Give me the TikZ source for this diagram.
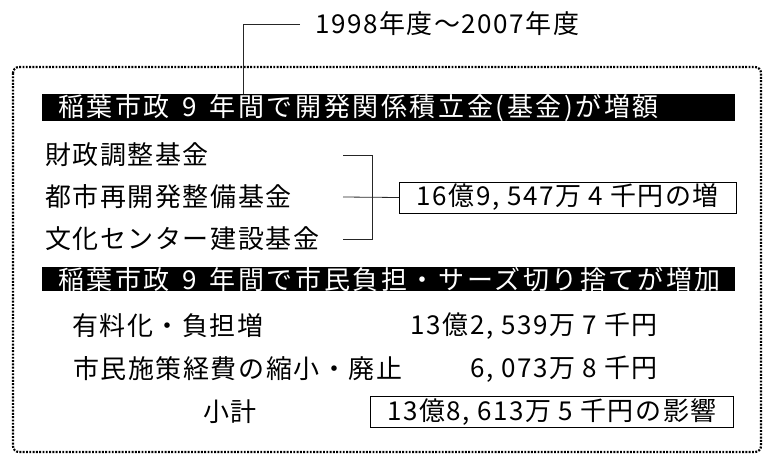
\documentclass[tikz,border=0pt]{standalone}
\usepackage{fontspec}
\newfontfamily\jp[LetterSpace=6]{Noto Sans CJK JP}
\newfontfamily\jpb[LetterSpace=10]{Noto Sans CJK JP}
\begin{document}
\begin{tikzpicture}[x=1pt,y=-1pt,
  txt/.style={font=\jp\fontsize{26}{26}\selectfont, inner sep=0pt, anchor=west},
  bartxt/.style={font=\jpb\fontsize{26}{26}\selectfont, text=white, fill=black, inner xsep=16pt, inner ysep=0pt, anchor=north west, minimum height=24pt, text width=661pt, align=left},
  valbox/.style={draw=black, line width=0.8pt, font=\jp\fontsize{26}{26}\selectfont, inner xsep=10pt, inner ysep=0pt, minimum height=31pt, anchor=west},
  link/.style={line width=0.8pt, draw=black!85},
  dotframe/.style={line width=2.2pt, dash pattern=on 1.9pt off 1.4pt, rounded corners=6pt}
]
\useasboundingbox (0,0) rectangle (772,455);
\draw[dotframe] (13,67) rectangle (761,452);
% period label
\node[txt] (yr) at (315,24) {1998年度～2007年度};
\coordinate (c1) at (243,24);
% bar 1
\node[bartxt] (bar1) at (42,94) {稲葉市政\hspace{4pt} 9 \hspace{4pt}年間で開発関係積立金(基金)が増額};
\draw[link] (yr.west) ++(-15,0) -- (c1) -- (c1 |- bar1.north);
% funds
\node[txt] (f1) at (45,155) {財政調整基金};
\node[txt] (f2) at (45,197) {都市再開発整備基金};
\node[txt] (f3) at (45,239) {文化センター建設基金};
\coordinate (bk) at (343,0);
\coordinate (bv) at (372,0);
\node[valbox, minimum width=337pt] (tot1) at (399,197.5) {16億9, 547万 4 千円の増};
\draw[link] (f1.east -| bk) -- (f1.east -| bv) -- (f3.east -| bv) -- (f3.east -| bk);
\draw[link] (f2.east -| bk) -- (tot1.west);
% bar 2
\node[bartxt] (bar2) at (42,267) {稲葉市政\hspace{4pt} 9 \hspace{4pt}年間で市民負担・サーズ切り捨てが増加};
% burdens
\node[txt] (r1) at (72,326) {有料化・負担増};
\node[txt] (r2) at (73,369) {市民施策経費の縮小・廃止};
\node[txt] (r3) at (203,412) {小計};
\node[txt, anchor=east] (v1) at (658,326) {13億2, 539万 7 千円};
\node[txt, anchor=east] (v2) at (658,369) {6, 073万 8 千円};
\node[valbox, minimum width=363pt] (tot2) at (370,412) {13億8, 613万 5 千円の影響};
\end{tikzpicture}
\end{document}
